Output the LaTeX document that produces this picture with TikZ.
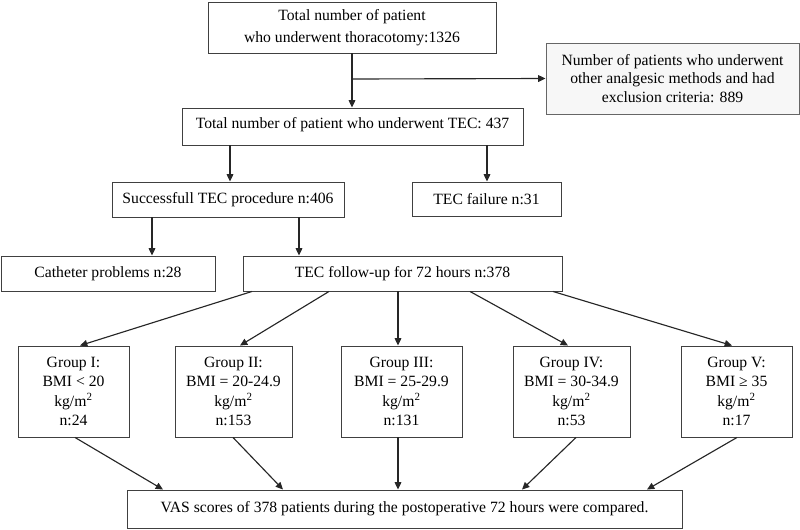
\documentclass[tikz,border=0pt]{standalone}
\usepackage{fontspec}
\setmainfont{Liberation Serif}
\usetikzlibrary{calc,arrows.meta}
\begin{document}
\begin{tikzpicture}[x=0.75pt,y=-0.75pt,
  box/.style={draw=black!75,line width=0.7pt,fill=white,inner sep=2pt,align=center,
    font=\fontsize{11.75}{14.4}\selectfont},
  arr/.style={draw=black!85,line width=0.85pt,-{Triangle[length=5.5pt,width=5pt]}}]
\useasboundingbox (0,0) rectangle (800,529);
\node[box,minimum width=216pt,minimum height=38.25pt,font=\fontsize{11.75}{16.5}\selectfont] (top) at (352,27.5) {Total number of patient\\who underwent thoracotomy:1326};
\node[box,fill=black!3,draw=black!60,minimum width=189.75pt,minimum height=53.25pt,font=\fontsize{11.75}{14}\selectfont] (excl) at (672.5,78.5) {Number of patients who underwent\\other analgesic methods and had\\exclusion criteria: 889};
\node[box,minimum width=255.75pt,minimum height=27.75pt,text depth=6pt] (tec) at (352.5,126.5) {Total number of patient who underwent TEC: 437};
\node[box,minimum width=174pt,minimum height=26.25pt] (succ) at (228,199.5) {Successfull TEC procedure n:406};
\node[box,minimum width=111.75pt,minimum height=25.5pt] (fail) at (486.5,199) {TEC failure n:31};
\node[box,minimum width=160.5pt,minimum height=26.25pt] (cath) at (108,273.5) {Catheter problems n:28};
\node[box,minimum width=239.25pt,minimum height=26.25pt] (follow) at (402.5,273.5) {TEC follow-up for 72 hours n:378};
\node[box,minimum width=83.25pt,minimum height=68.25pt] (g1) at (73.5,391.5) {Group I:\\BMI < 20\\kg/m\textsuperscript{2}\\n:24};
\node[box,minimum width=87.75pt,minimum height=68.25pt] (g2) at (233.5,391.5) {Group II:\\BMI = 20-24.9\\kg/m\textsuperscript{2}\\n:153};
\node[box,minimum width=90.75pt,minimum height=68.25pt] (g3) at (401.5,391.5) {Group III:\\BMI = 25-29.9\\kg/m\textsuperscript{2}\\n:131};
\node[box,minimum width=87.75pt,minimum height=68.25pt] (g4) at (571.5,391.5) {Group IV:\\BMI = 30-34.9\\kg/m\textsuperscript{2}\\n:53};
\node[box,minimum width=83.25pt,minimum height=68.25pt] (g5) at (736.5,391.5) {Group V:\\BMI ≥ 35\\kg/m\textsuperscript{2}\\n:17};
\node[box,minimum width=416.25pt,minimum height=28.5pt] (vas) at (404.5,509) {VAS scores of 378 patients during the postoperative 72 hours were compared.};
% connectors
\coordinate (br) at (352,79);
\draw[arr] (top.south) -- (top.south |- tec.north);
\draw[arr] (br) -- (excl.west);
\draw[arr] ($(tec.south)+(-122.5,0)$) -- ($(succ.north)+(2,0)$);
\draw[arr] ($(tec.south)+(134.5,0)$) -- ($(fail.north)+(0.5,0)$);
\draw[arr] ($(succ.south)+(-76,0)$) -- ($(cath.north)+(44,0)$);
\draw[arr] ($(succ.south)+(71,0)$) -- ($(follow.north)+(-103.5,0)$);
\draw[arr] ($(follow.south)+(-150.5,0)$) -- ($(g1.north)+(6.5,0)$);
\draw[arr] ($(follow.south)+(-73.5,0)$) -- ($(g2.north)+(6.5,0)$);
\draw[arr] ($(follow.south)+(-4.5,0)$) -- ($(g3.north)+(-3.5,0)$);
\draw[arr] ($(follow.south)+(67.5,0)$) -- ($(g4.north)+(-3.5,0)$);
\draw[arr] ($(follow.south)+(150.5,0)$) -- ($(g5.north)+(-4.5,0)$);
\draw[arr] ($(g1.south)+(1.5,0)$) -- ($(vas.north)+(-241.5,0)$);
\draw[arr] ($(g2.south)+(-0.5,0)$) -- ($(vas.north)+(-121.5,0)$);
\draw[arr] ($(g3.south)+(-3.5,0)$) -- ($(vas.north)+(-6.5,0)$);
\draw[arr] ($(g4.south)+(4.5,0)$) -- ($(vas.north)+(117.5,0)$);
\draw[arr] ($(g5.south)+(0.5,0)$) -- ($(vas.north)+(242.5,0)$);
\end{tikzpicture}
\end{document}
